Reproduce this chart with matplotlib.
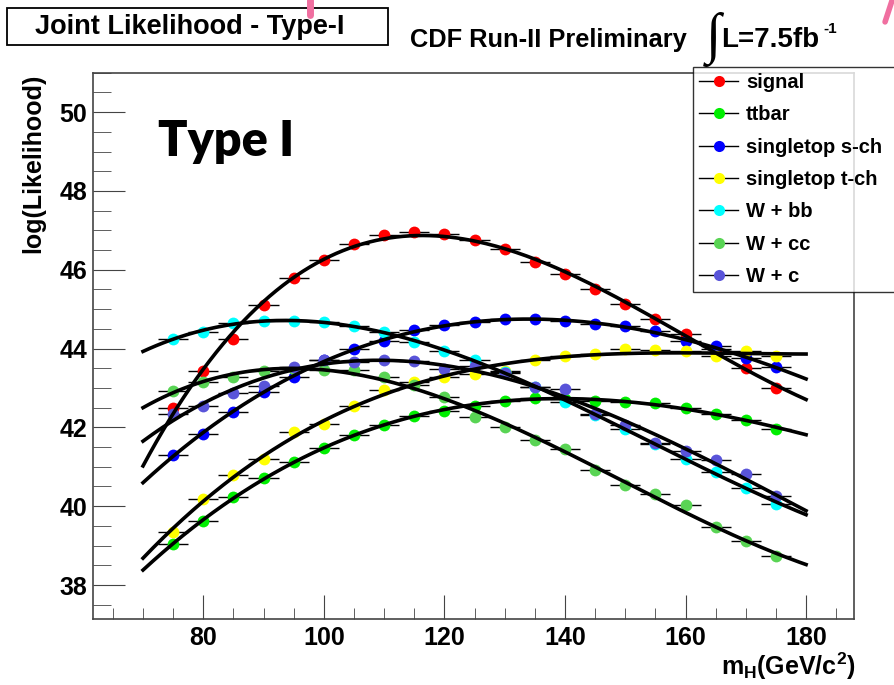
import numpy as np
import matplotlib
matplotlib.use("Agg")
import matplotlib.pyplot as plt
from matplotlib.lines import Line2D
from matplotlib.patches import Rectangle
from matplotlib.ticker import MultipleLocator

plt.rcParams['font.family'] = ['Liberation Sans', 'DejaVu Sans']
plt.rcParams['font.weight'] = 'bold'
plt.rcParams['mathtext.fontset'] = 'custom'
plt.rcParams['mathtext.rm'] = 'Liberation Sans:bold'
plt.rcParams['mathtext.it'] = 'Liberation Sans:bold'
plt.rcParams['mathtext.bf'] = 'Liberation Sans:bold'

# Higgs mass points [GeV/c^2]
mass = [75, 80, 85, 90, 95, 100, 105, 110, 115, 120, 125,
        130, 135, 140, 145, 150, 155, 160, 165, 170, 175]

signal = [42.5, 43.44, 44.25, 45.1, 45.8, 46.25, 46.65, 46.88, 46.95, 46.91, 46.75,
          46.52, 46.2, 45.88, 45.5, 45.14, 44.75, 44.37, 44.0, 43.5, 43.0]
ttbar = [39.04, 39.63, 40.23, 40.71, 41.12, 41.48, 41.8, 42.06, 42.3, 42.42, 42.55,
         42.67, 42.74, 42.72, 42.68, 42.65, 42.61, 42.48, 42.35, 42.19, 41.97]
stop_s = [41.29, 41.84, 42.4, 42.91, 43.29, 43.7, 43.99, 44.18, 44.46, 44.59, 44.67,
          44.74, 44.74, 44.69, 44.63, 44.57, 44.44, 44.18, 44.06, 43.76, 43.52]
stop_t = [39.35, 40.19, 40.78, 41.21, 41.89, 42.08, 42.55, 42.95, 43.15, 43.27, 43.35,
          43.42, 43.72, 43.8, 43.86, 43.99, 43.97, 43.93, 43.8, 43.93, 43.8]
wbb = [44.25, 44.41, 44.65, 44.71, 44.71, 44.67, 44.58, 44.43, 44.16, 43.95, 43.7,
       43.4, 43.02, 42.65, 42.31, 41.97, 41.58, 41.2, 40.87, 40.47, 40.06]
wcc = [42.93, 43.16, 43.27, 43.42, 43.47, 43.46, 43.46, 43.29, 43.08, 42.78, 42.27,
       42.01, 41.68, 41.45, 40.91, 40.53, 40.31, 40.02, 39.46, 39.12, 38.74]
wc = [42.35, 42.54, 42.88, 43.05, 43.52, 43.7, 43.65, 43.7, 43.69, 43.49, 43.55,
      43.38, 43.03, 42.98, 42.35, 42.06, 41.6, 41.39, 41.18, 40.81, 40.26]

names = ["signal", "ttbar", "singletop s-ch", "singletop t-ch", "W + bb", "W + cc", "W + c"]
series = [signal, ttbar, stop_s, stop_t, wbb, wcc, wc]
colors = ["#ff0000", "#00ee00", "#0000ff", "#ffff00", "#00ffff", "#59d454", "#5954d9"]

fig = plt.figure(figsize=(8.94, 6.85), dpi=100)
ax = fig.add_axes([0.104, 0.0959, 0.8516, 0.798])

xfit = np.linspace(70, 180, 200)
for vals, col in zip(series, colors):
    ax.errorbar(mass, vals, xerr=2.5, fmt='o', color=col, ms=8.5, mec='none',
                ecolor='black', elinewidth=1, capsize=0, zorder=2)
    coef = np.polyfit(mass, vals, 3)
    ax.plot(xfit, np.polyval(coef, xfit), color='black', lw=2.6, zorder=3)

ax.set_xlim(61.7, 188.0)
ax.set_ylim(37.13, 51.0)
ax.set_xticks([80, 100, 120, 140, 160, 180])
ax.set_yticks([38, 40, 42, 44, 46, 48, 50])
ax.xaxis.set_minor_locator(MultipleLocator(5))
ax.yaxis.set_minor_locator(MultipleLocator(0.5))
ax.tick_params(which='both', direction='in', top=False, right=False, color='#444444')
ax.tick_params(axis='x', which='major', length=17, labelsize=18, pad=5)
ax.tick_params(axis='x', which='minor', length=8)
ax.tick_params(axis='y', which='major', length=23, labelsize=18, pad=4)
ax.tick_params(axis='y', which='minor', length=13)
for sp in ax.spines.values():
    sp.set_color('#444444')
    sp.set_linewidth(1.2)
for lab in ax.get_xticklabels() + ax.get_yticklabels():
    lab.set_fontweight('bold')

ax.text(0.086, 0.915, "Type I", transform=ax.transAxes, fontsize=35,
        family=['Lato', 'DejaVu Sans'], fontweight='heavy', va='top', ha='left')

fig.text(0.037, 0.762, "log(Likelihood)", rotation=90, fontsize=18,
         fontweight='bold', ha='center', va='center')
fig.text(0.957, 0.028, r"$m_{H}$(GeV/c$^{2}$)", fontsize=18, fontweight='bold',
         ha='right', va='center')

fig.add_artist(Rectangle((0.0078, 0.934), 0.426, 0.054, transform=fig.transFigure,
                         fc='white', ec='black', lw=1.3))
fig.text(0.2125, 0.961, "Joint Likelihood - Type-I", fontsize=19.5, fontweight='bold',
         ha='center', va='center')
fig.text(0.459, 0.942, "CDF Run-II Preliminary", fontsize=18.3, fontweight='bold',
         ha='left', va='center')
fig.text(0.798, 0.942, "\u222b", fontsize=40, fontweight='normal',
         family=['Liberation Serif', 'DejaVu Serif'], ha='center', va='center')
fig.text(0.807, 0.942, "L=7.5fb", fontsize=20, fontweight='bold',
         ha='left', va='center')
fig.text(0.921, 0.958, "-1", fontsize=11, fontweight='bold',
         ha='left', va='center')

# pink pen marks at the top
fig.add_artist(Line2D([0.347, 0.347], [1.0, 0.978], color='#f06fa0', lw=5,
                      solid_capstyle='round', transform=fig.transFigure))
fig.add_artist(Line2D([0.998, 0.990], [1.0, 0.968], color='#f06fa0', lw=4,
                      solid_capstyle='round', transform=fig.transFigure))

handles = [Line2D([0], [0], color='black', lw=1, marker='o', ms=8,
                  mfc=c, mec='none') for c in colors]
leg = fig.legend(handles, names, loc='upper left',
                 bbox_to_anchor=(0.775, 0.579, 0.24, 0.323), mode='expand',
                 prop=dict(weight='bold', size=14.5), frameon=True, fancybox=False,
                 edgecolor='black', handlelength=1.95, labelspacing=0.66,
                 borderaxespad=0.0, borderpad=0.3, handletextpad=0.4)
leg.get_frame().set_linewidth(1.0)

plt.savefig("out.png", dpi=100)
plt.close()
